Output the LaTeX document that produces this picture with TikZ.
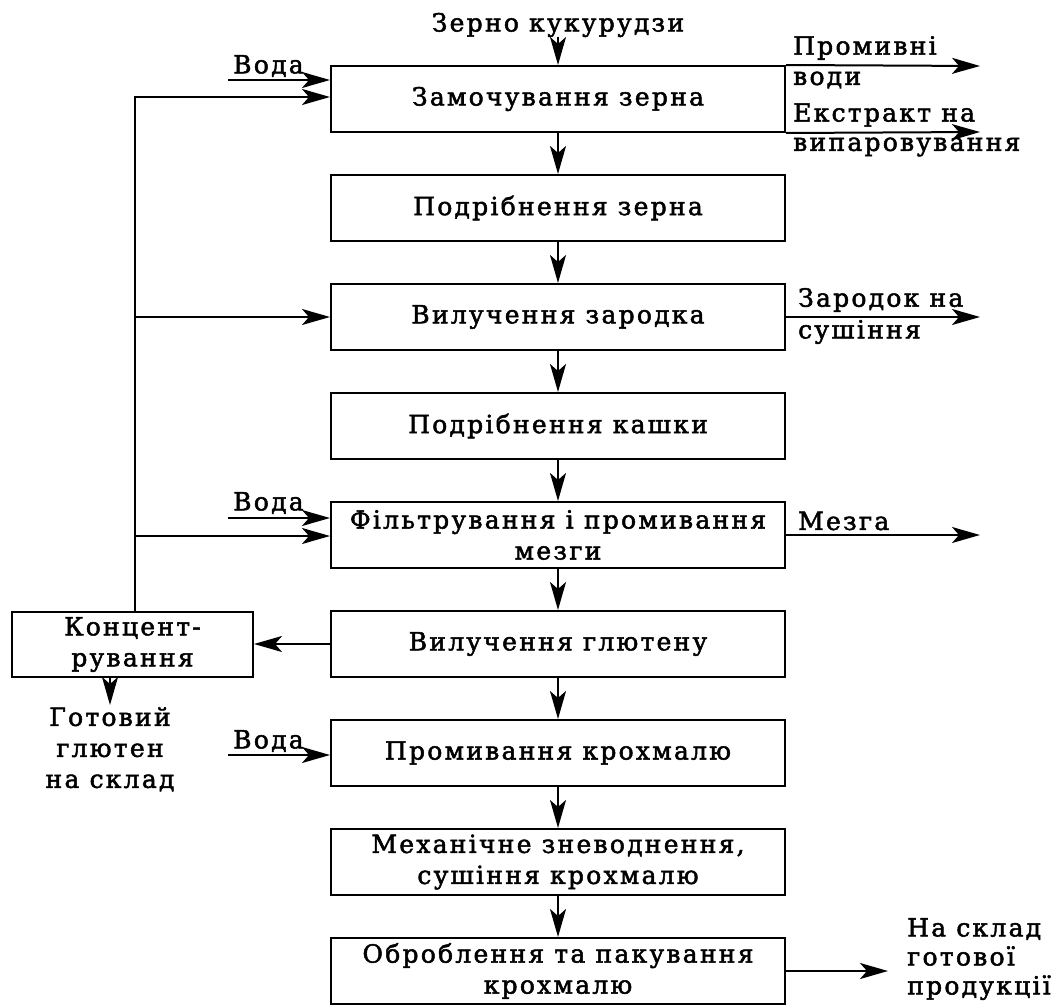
\documentclass[tikz,border=0pt]{standalone}
\usepackage{fontspec}
\setmainfont{DejaVu Serif}[LetterSpace=9,FakeBold=2]
\usetikzlibrary{arrows.meta}
\begin{document}
\tikzset{
  txt/.style={font=\fontsize{25}{31}\selectfont},
  box/.style={draw, line width=2pt, minimum width=454pt, minimum height=66pt, inner sep=0pt, align=center, txt},
  kbox/.style={draw, line width=2pt, minimum width=241pt, minimum height=65pt, inner sep=0pt, align=center, txt},
  lbl/.style={inner sep=0pt, align=left, txt},
  lblc/.style={inner sep=0pt, align=center, txt},
  ln/.style={line width=2pt},
  arr/.style={line width=2pt, -{Stealth[length=28pt,width=16pt,inset=7pt]}}
}
\begin{tikzpicture}[x=1pt,y=-1pt]
\useasboundingbox (0,0) rectangle (1055,1006);
% main boxes
\node[box] (b1) at (558,99) {Замочування зерна};
\node[box] (b2) at (558,208) {Подрібнення зерна};
\node[box] (b3) at (558,317) {Вилучення зародка};
\node[box] (b4) at (558,426) {Подрібнення кашки};
\node[box] (b5) at (558,535) {Фільтрування і промивання\\мезги};
\node[box] (b6) at (558,644) {Вилучення глютену};
\node[box] (b7) at (558,753) {Промивання крохмалю};
\node[box] (b8) at (558,862) {Механічне зневоднення,\\сушіння крохмалю};
\node[box] (b9) at (558,971) {Оброблення та пакування\\крохмалю};
\node[kbox] (k) at (132.5,644.5) {Концент-\\рування};
% top input
\node[lblc] (top) at (558,25) {Зерно кукурудзи};
\coordinate (t0) at (558,37);
\draw[arr] (t0) -- (b1.north);
% chain
\draw[arr] (b1) -- (b2);
\draw[arr] (b2) -- (b3);
\draw[arr] (b3) -- (b4);
\draw[arr] (b4) -- (b5);
\draw[arr] (b5) -- (b6);
\draw[arr] (b6) -- (b7);
\draw[arr] (b7) -- (b8);
\draw[arr] (b8) -- (b9);
% water inputs
\coordinate (v1) at (228,80);
\coordinate (v5) at (228,518);
\coordinate (v7) at (228,755);
\draw[arr] (v1) -- (v1 -| b1.west);
\draw[arr] (v5) -- (v5 -| b5.west);
\draw[arr] (v7) -- (v7 -| b7.west);
\node[lbl, anchor=west] (w1) at (233,66) {Вода};
\node[lbl, anchor=west] (w5) at (233,503) {Вода};
\node[lbl, anchor=west] (w7) at (233,741) {Вода};
% recycle from concentration
\coordinate (c1) at (135,97);
\coordinate (c3) at (135,317);
\coordinate (c5) at (135,536);
\draw[arr] (k.north -| c1) -- (c1) -- (c1 -| b1.west);
\draw[arr] (c3) -- (c3 -| b3.west);
\draw[arr] (c5) -- (c5 -| b5.west);
\draw[arr] (b6.west) -- (b6.west -| k.east);
% gluten out
\coordinate (g0) at (110,677);
\coordinate (g1) at (110,705);
\draw[arr] (g0) -- (g1);
\node[lblc, anchor=north] (gl) at (110,707) {Готовий\\глютен\\на склад};
% right outputs
\coordinate (o1) at (980,66);
\coordinate (o2) at (980,132);
\coordinate (o3) at (980,317);
\coordinate (o5) at (980,535);
\coordinate (o9) at (888,971);
\draw[arr] (b1.north east) -- (o1);
\draw[arr] (b1.south east) -- (o2);
\draw[arr] (b3.east) -- (o3);
\draw[arr] (b5.east) -- (o5);
\draw[arr] (b9.east) -- (o9);
\node[lbl, anchor=west] (p1) at (793,48) {Промивні};
\node[lbl, anchor=west] (p2) at (793,80) {води};
\node[lbl, anchor=west] (e1) at (793,115) {Екстракт на};
\node[lbl, anchor=west] (e2) at (793,147) {випаровування};
\node[lbl, anchor=west] (z1) at (798,300) {Зародок на};
\node[lbl, anchor=west] (z2) at (798,332) {сушіння};
\node[lbl, anchor=west] (m1) at (798,521) {Мезга};
\node[lbl, anchor=north west, font=\fontsize{25}{29}\selectfont] (n1) at (907,918) {На склад\\готової\\продукції};
\end{tikzpicture}
\end{document}
